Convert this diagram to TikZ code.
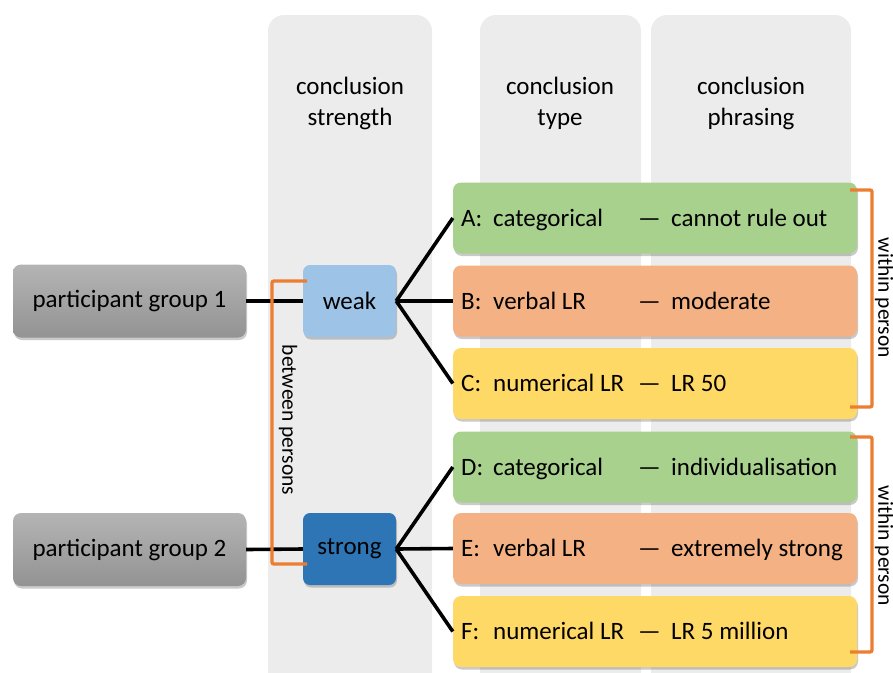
\documentclass[tikz,border=0pt]{standalone}
\usepackage{fontspec}
\setmainfont{Carlito}
\usetikzlibrary{shadows}
\definecolor{colbg}{HTML}{ECECEC}
\definecolor{grtop}{HTML}{B4B4B4}
\definecolor{grbot}{HTML}{939393}
\definecolor{weakc}{HTML}{9DC3E6}
\definecolor{strongc}{HTML}{2E75B6}
\definecolor{greenc}{HTML}{A9D18E}
\definecolor{orangec}{HTML}{F4B183}
\definecolor{yellowc}{HTML}{FFD966}
\definecolor{brk}{HTML}{ED7D31}
\tikzset{
  sh/.style={drop shadow={shadow xshift=1pt, shadow yshift=-2.5pt, opacity=0.35, fill=black!60}},
  grp/.style={rectangle, rounded corners=8, minimum width=233, minimum height=73, top color=grtop, bottom color=grbot, sh, font=\fontsize{25}{29}\selectfont},
  lvl/.style={rectangle, rounded corners=7, minimum width=93, minimum height=72, sh, font=\fontsize{25}{29}\selectfont},
  opt/.style={rectangle, rounded corners=8, minimum width=404, minimum height=71, sh},
  hdr/.style={align=center, font=\fontsize{25}{31}\selectfont},
  txt/.style={anchor=base west, inner sep=0, font=\fontsize{25}{29}\selectfont},
  conn/.style={line width=3.6pt, black},
  bracket/.style={line width=3.4pt, brk, rounded corners=2},
  side/.style={rotate=-90, font=\fontsize{21.5}{25}\selectfont}
}
\begin{document}
\begin{tikzpicture}[x=1pt, y=-1pt]
\useasboundingbox (0,0) rectangle (893,672);
\begin{scope}
\clip (0,0) rectangle (893,672);
\fill[colbg, rounded corners=16] (268,15) rectangle (432,700);
\fill[colbg, rounded corners=16] (480,15) rectangle (641,700);
\fill[colbg, rounded corners=16] (651,15) rectangle (851,700);
\end{scope}
\node[hdr] (h1) at (350,103) {conclusion\\strength};
\node[hdr] (h2) at (560,103) {conclusion\\type};
\node[hdr] (h3) at (751,103) {conclusion\\phrasing};

\node[grp] (g1) at (129.5,301) {participant group 1};
\node[grp] (g2) at (129.5,549.5) {participant group 2};
\node[lvl, fill=weakc] (weak) at (349.5,301) {weak};
\node[lvl, fill=strongc] (strong) at (349.5,549) {strong};

\node[opt, fill=greenc] (A) at (655,218) {};
\node[opt, fill=orangec] (B) at (655,301) {};
\node[opt, fill=yellowc] (C) at (655,383.5) {};
\node[opt, fill=greenc] (D) at (655,467) {};
\node[opt, fill=orangec] (E) at (655,548.5) {};
\node[opt, fill=yellowc] (F) at (655,631.5) {};

\foreach \b/\l/\t/\p in {A/A:/categorical/cannot rule out, B/B:/verbal LR/moderate, C/C:/numerical LR/LR 50, D/D:/categorical/individualisation, E/E:/verbal LR/extremely strong, F/F:/numerical LR/LR 5 million}{
  \node[txt] (\b l) at ([yshift=-8pt]\b.center -| 461,0) {\l};
  \node[txt] (\b t) at ([yshift=-8pt]\b.center -| 493,0) {\t};
  \node[txt] (\b d) at ([yshift=-8pt]\b.center -| 638,0) {—};
  \node[txt] (\b p) at ([yshift=-8pt]\b.center -| 671,0) {\p};
}

\draw[conn] (g1.east) -- (weak.west);
\draw[conn] (g2.east) -- (strong.west);
\draw[conn] (weak.east) -- (A.west);
\draw[conn] (weak.east) -- (B.west);
\draw[conn] (weak.east) -- (C.west);
\draw[conn] (strong.east) -- (D.west);
\draw[conn] (strong.east) -- (E.west);
\draw[conn] (strong.east) -- (F.west);

\coordinate (bp1) at (307,281);
\coordinate (bp2) at (307,564);
\draw[bracket] (bp1) -- (272,281) -- (272,564) -- (bp2);
\node[side] (bpl) at (288,420) {between persons};

\coordinate (w1a) at (850,190);
\coordinate (w1b) at (850,407);
\draw[bracket] (w1a) -- (872,190) -- (872,407) -- (w1b);
\node[side] (w1l) at (884,298) {within person};
\coordinate (w2a) at (850,437);
\coordinate (w2b) at (850,652);
\draw[bracket] (w2a) -- (872,437) -- (872,652) -- (w2b);
\node[side] (w2l) at (884,546) {within person};
\end{tikzpicture}
\end{document}
